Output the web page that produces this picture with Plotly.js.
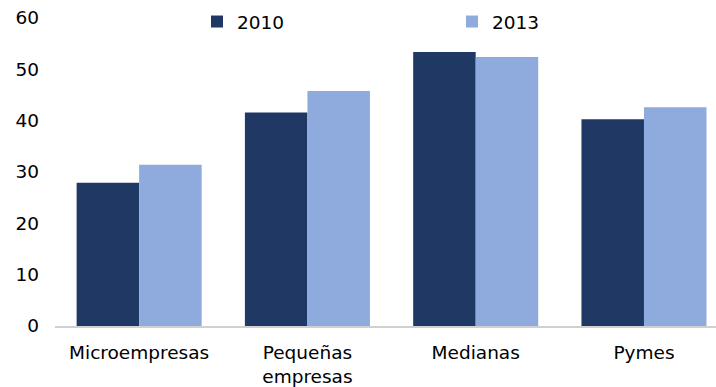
<!DOCTYPE html>
<html>
<head>
<meta charset="utf-8">
<script src="https://cdn.plot.ly/plotly-3.0.1.min.js"></script>
<style>
  html, body { margin: 0; padding: 0; background: #ffffff; }
  #chart { width: 716px; height: 387px; }
</style>
</head>
<body>
<div id="chart"></div>
<script>
// Company size categories (axis labels)
const categories = ['Microempresas', 'Pequeñas<br>empresas', 'Medianas', 'Pymes'];

// Series values
const values2010 = [27.9, 41.6, 53.4, 40.3];
const values2013 = [31.4, 45.8, 52.4, 42.6];

// Axis ticks
const yTicks = [0, 10, 20, 30, 40, 50, 60];

const FONT = 'DejaVu Sans, Liberation Sans, Arial, sans-serif';
const FONT_SIZE = 18.5;

const traces = [
  {
    type: 'bar',
    name: '2010',
    x: categories,
    y: values2010,
    marker: { color: '#203864' },
    legend: 'legend',
    hoverinfo: 'skip'
  },
  {
    type: 'bar',
    name: '2013',
    x: categories,
    y: values2013,
    marker: { color: '#8faadc' },
    legend: 'legend2',
    hoverinfo: 'skip'
  }
];

const legendStyle = {
  orientation: 'h',
  xref: 'container',
  yref: 'container',
  xanchor: 'left',
  yanchor: 'middle',
  bgcolor: 'rgba(0,0,0,0)',
  borderwidth: 0,
  font: { family: FONT, size: FONT_SIZE, color: '#000000' }
};

const layout = {
  width: 716,
  height: 387,
  margin: { l: 55, r: 0, t: 18, b: 61, autoexpand: false },
  paper_bgcolor: '#ffffff',
  plot_bgcolor: '#ffffff',
  font: { family: FONT, size: FONT_SIZE, color: '#000000' },
  barmode: 'group',
  bargap: 0.257,
  bargroupgap: 0,
  showlegend: true,
  legend: Object.assign({}, legendStyle, { x: 197 / 716, y: 1 - 22 / 387 }),
  legend2: Object.assign({}, legendStyle, { x: 452 / 716, y: 1 - 22 / 387 }),
  xaxis: {
    type: 'category',
    range: [-0.5, 3.428],
    showline: true,
    linecolor: '#d0d0d0',
    linewidth: 2,
    showgrid: false,
    zeroline: false,
    ticks: '',
    ticklabelstandoff: 9,
    tickfont: { family: FONT, size: FONT_SIZE, color: '#000000' },
    fixedrange: true
  },
  yaxis: {
    range: [0, 60],
    tickvals: yTicks,
    ticktext: yTicks.map(String),
    showgrid: false,
    zeroline: false,
    showline: false,
    ticks: '',
    ticklabelstandoff: 15,
    tickfont: { family: FONT, size: FONT_SIZE, color: '#000000' },
    fixedrange: true
  }
};

Plotly.newPlot('chart', traces, layout, { staticPlot: true, displayModeBar: false });
</script>
</body>
</html>
